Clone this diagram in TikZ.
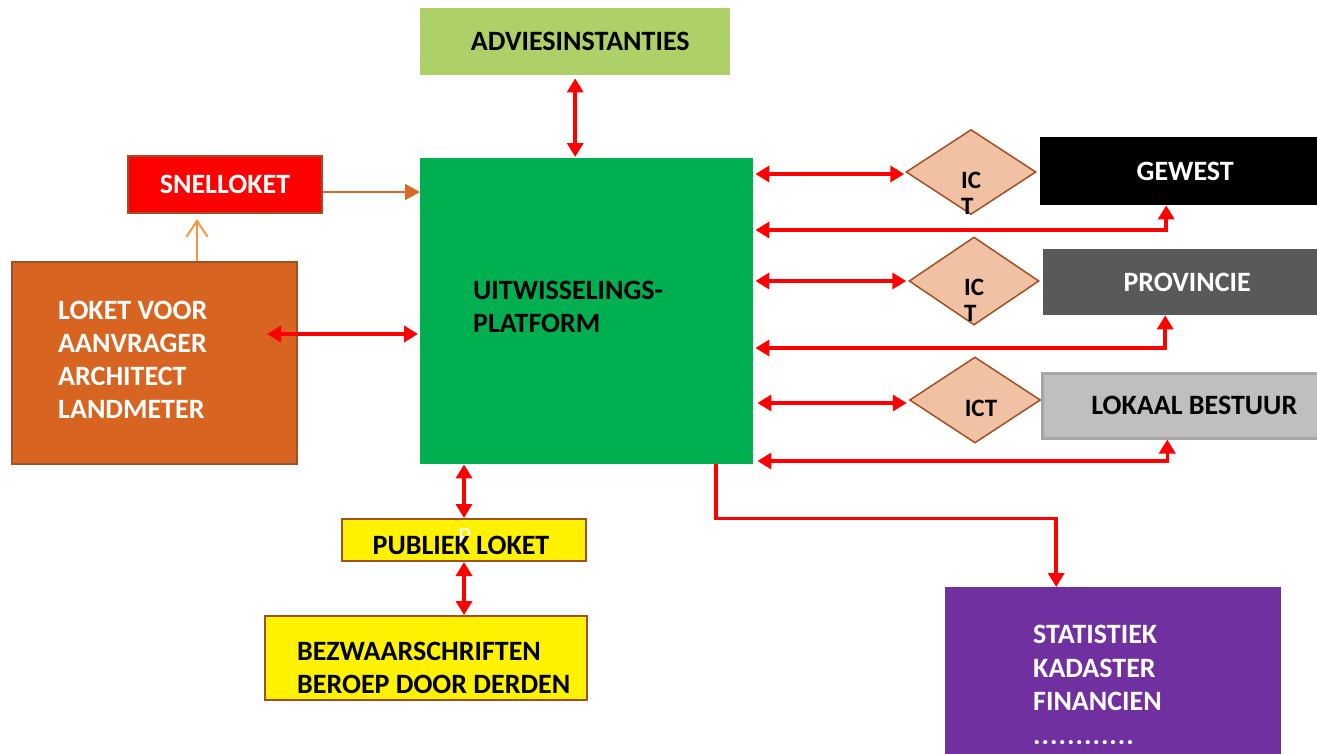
\documentclass[tikz,border=0pt]{standalone}
\usepackage{fontspec}
\setmainfont{Carlito}
\usetikzlibrary{arrows.meta,shapes.geometric,calc}
\definecolor{advgreen}{RGB}{173,209,104}
\definecolor{mgreen}{RGB}{0,176,80}
\definecolor{brownb}{RGB}{158,80,38}
\definecolor{lokorange}{RGB}{216,100,33}
\definecolor{peach}{RGB}{240,193,163}
\definecolor{provgray}{RGB}{89,89,89}
\definecolor{lokgray}{RGB}{191,191,191}
\definecolor{lokborder}{RGB}{166,166,166}
\definecolor{purp}{RGB}{112,48,160}
\definecolor{arrorange}{RGB}{216,105,40}
\definecolor{lightorange}{RGB}{247,150,70}
\begin{document}
\begin{tikzpicture}[x=1pt,y=-1pt,
  box/.style={rectangle, inner sep=0pt, anchor=north west},
  big/.style={font=\bfseries\fontsize{28}{33}\selectfont},
  ictf/.style={font=\bfseries\fontsize{25}{25.5}\selectfont, inner sep=0pt, align=left, anchor=north west},
  txt/.style={big, inner sep=0pt, align=left, anchor=west},
  dia/.style={diamond, draw=brownb, line width=1.5pt, fill=peach, inner sep=0pt, minimum width=130pt},
  dbl/.style={draw=red, line width=3.5pt, {Triangle[length=14pt,width=16pt]}-{Triangle[length=14pt,width=16pt]}},
  sgl/.style={draw=red, line width=3.5pt, -{Triangle[length=14pt,width=16pt]}},
]
\useasboundingbox (0,0) rectangle (1317,753);
\fill[white] (0,0) rectangle (1317,753);
\clip (0,0) rectangle (1317,753);

% boxes
\node[box, fill=advgreen, minimum width=310pt, minimum height=67pt, big] (advies) at (420,8) {\hspace*{10pt}ADVIESINSTANTIES};
\node[box, fill=mgreen, minimum width=333pt, minimum height=306pt] (main) at (420,158) {};
\node[txt] (mainT) at (473,306.5) {UITWISSELINGS-\\PLATFORM};
\node[box, fill=red, draw=brownb, line width=2pt, minimum width=194pt, minimum height=57pt, big, text=white] (snel) at (127,155) {SNELLOKET};
\node[box, fill=lokorange, draw=brownb, line width=2pt, minimum width=285pt, minimum height=202pt] (loket) at (11,261) {};
\node[txt, text=white] (loketT) at (58,360) {LOKET VOOR\\AANVRAGER\\ARCHITECT\\LANDMETER};

\node[box, fill=black, minimum width=290pt, minimum height=68pt, big, text=white] (gewest) at (1040,137) {GEWEST};
\node[box, fill=provgray, minimum width=288pt, minimum height=66pt, big, text=white] (prov) at (1043,249) {PROVINCIE};
\node[box, fill=lokgray, draw=lokborder, line width=2.5pt, minimum width=304pt, minimum height=65pt, big] (lokaal) at (1041,372) {LOKAAL BESTUUR};

\node[dia, minimum height=85pt] (d1) at (971,172) {};
\node[dia, minimum height=88pt] (d2) at (974,281) {};
\node[dia, minimum height=86pt, minimum width=131pt] (d3) at (975,400) {};
\node[ictf] (t1) at (961,172) {IC\\T};
\node[ictf] (t2) at (964,279) {IC\\T};
\node[font=\bfseries\fontsize{25}{25.5}\selectfont, inner sep=0pt] (t3) at (981,408) {ICT};

\node[box, fill=yellow, draw=brownb, line width=2pt, minimum width=244pt, minimum height=42pt] (pub) at (341,518) {};
\node[font=\fontsize{25}{25}\selectfont, text=white, inner sep=0pt, anchor=north west] (pubP) at (458,528) {P};
\node[big, inner sep=0pt] (pubT) at (461,545) {PUBLIEK LOKET};

\node[box, fill=yellow, draw=brownb, line width=2pt, minimum width=322pt, minimum height=84pt] (bez) at (264,615) {};
\node[txt] (bezT) at (297,668) {BEZWAARSCHRIFTEN\\BEROEP DOOR DERDEN};

\node[box, fill=purp, minimum width=336pt, minimum height=200pt] (stat) at (945,587) {};
\node[txt, text=white, font=\bfseries\fontsize{28}{33.5}\selectfont] (statT) at (1033,685) {STATISTIEK\\KADASTER\\FINANCIEN\\.\kern1pt.\kern1pt.\kern1pt.\kern1pt.\kern1pt.\kern1pt.\kern1pt.\kern1pt.\kern1pt.\kern1pt.\kern1pt.};

% connectors
\coordinate (lkY) at (0,334);
\draw[dbl] ($(loket.east |- lkY)+(-31,0)$) -- ($(main.west |- lkY)+(-2,0)$);
\draw[dbl] ($(advies.south)+(0,3)$) -- ($(advies.south |- main.north)+(0,-1)$);

\coordinate (r1) at (0,230);
\coordinate (r2) at (0,348);
\coordinate (r3) at (0,461);
\draw[dbl] ($(main.east |- d1.west)+(2,2)$) -- ($(d1.west)+(-1,2)$);
\draw[dbl] ([xshift=-19pt]gewest.south) |- ($(main.east |- r1)+(2,0)$);
\draw[dbl] ($(main.east |- d2.west)+(2,0)$) -- ($(d2.west)+(-2,0)$);
\draw[dbl] ([xshift=-22pt]prov.south) |- ($(main.east |- r2)+(2,0)$);
\draw[dbl] ($(main.east |- d3.west)+(4,3)$) -- ($(d3.west)+(-2,3)$);
\draw[dbl] ([xshift=-27pt]lokaal.south) |- ($(main.east |- r3)+(4,0)$);

\draw[dbl] (pub.north |- main.south) -- (pub.north);
\draw[dbl] (pub.south) -- (pub.south |- bez.north);
\draw[sgl] ([xshift=129.5pt]main.south) -- ++(0,54) -| ([xshift=-57pt]stat.north);

\coordinate (sy) at (0,192);
\draw[arrorange, line width=2pt, -{Triangle[length=15pt,width=16pt]}] (snel.east |- sy) -- (main.west |- sy);
\coordinate (ux) at (197,0);
\draw[lightorange, line width=2pt, -{Straight Barb[length=16pt,width=21pt]}] (loket.north -| ux) -- ($(snel.south -| ux)+(0,5)$);
\end{tikzpicture}
\end{document}
